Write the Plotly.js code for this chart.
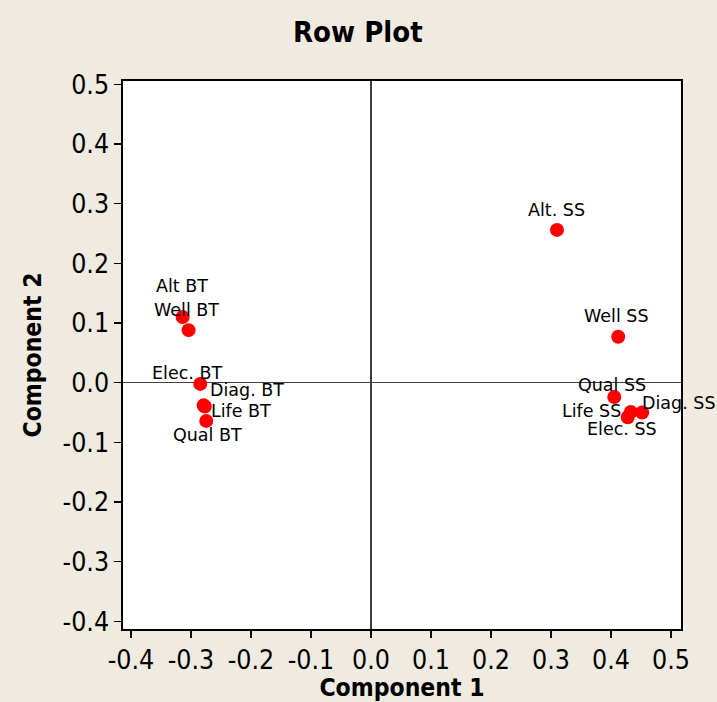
<!DOCTYPE html>
<html>
<head>
<meta charset="utf-8">
<script src="https://cdn.plot.ly/plotly-3.0.1.min.js"></script>
<style>
  html, body { margin: 0; padding: 0; background: #EFEBE1; }
  #chart { width: 717px; height: 702px; }
</style>
</head>
<body>
<div id="chart"></div>
<script>
// ---- data ----
const rowLabels = ["Alt BT", "Well BT", "Elec. BT", "Diag. BT", "Life BT", "Qual BT",
                   "Alt. SS", "Well SS", "Qual SS", "Diag. SS", "Life SS", "Elec. SS"];
const component1 = [-0.314, -0.304, -0.2845, -0.279, -0.277, -0.2745,
                     0.310, 0.412, 0.4055, 0.452, 0.433, 0.428];
const component2 = [0.110, 0.088, -0.002, -0.038, -0.040, -0.064,
                    0.256, 0.077, -0.024, -0.050, -0.049, -0.058];
const tickValues = [-0.4, -0.3, -0.2, -0.1, 0.0, 0.1, 0.2, 0.3, 0.4, 0.5];
const tickLabels = ["-0.4", "-0.3", "-0.2", "-0.1", "0.0", "0.1", "0.2", "0.3", "0.4", "0.5"];

// ---- label placement (pixel offsets, right / up) ----
const labelShift = [
  [-1, 31], [-2, 20], [-13, 11], [43, 15], [36, -4], [1, -14],
  [0, 20], [-2, 21], [-2, 12], [37, 10], [-39, 1], [-6, -12]
];

const condensed = "DejaVu Sans Condensed, DejaVu Sans, sans-serif";
const regular = "DejaVu Sans, sans-serif";

const trace = {
  type: "scatter",
  mode: "markers",
  x: component1,
  y: component2,
  text: rowLabels,
  hoverinfo: "text",
  marker: { color: "#FF0000", size: 14, line: { width: 0 } },
  showlegend: false
};

const annotations = rowLabels.map((t, i) => ({
  x: component1[i], y: component2[i], xref: "x", yref: "y",
  text: t, showarrow: false,
  xanchor: "center", yanchor: "middle",
  xshift: labelShift[i][0], yshift: labelShift[i][1],
  font: { family: regular, size: 17.5, color: "#000000" }
}));

const axisCommon = {
  tickmode: "array",
  tickvals: tickValues,
  ticktext: tickLabels,
  ticks: "outside",
  ticklen: 7,
  tickwidth: 1.3,
  tickcolor: "#000000",
  showgrid: false,
  showline: true,
  mirror: true,
  linecolor: "#000000",
  linewidth: 1.6,
  zeroline: true,
  zerolinecolor: "#404040",
  zerolinewidth: 1.5,
  tickfont: { family: condensed, size: 26.5, color: "#000000" },
  automargin: false,
  fixedrange: true
};

const layout = {
  width: 717,
  height: 702,
  paper_bgcolor: "#EFEBE1",
  plot_bgcolor: "#FFFFFF",
  margin: { l: 123, r: 36, t: 81, b: 73 },
  title: {
    text: "<b>Row Plot</b>",
    font: { family: condensed, size: 29, color: "#000000" },
    xref: "container", yref: "container",
    x: 0.499, y: 0.955, xanchor: "center", yanchor: "middle"
  },
  xaxis: Object.assign({}, axisCommon, {
    range: [-0.4133, 0.5167],
    title: { text: "<b>Component 1</b>", font: { family: condensed, size: 24.5, color: "#000000" }, standoff: 8 }
  }),
  yaxis: Object.assign({}, axisCommon, {
    range: [-0.4127, 0.5055],
    title: { text: "<b>Component 2</b>", font: { family: condensed, size: 24.5, color: "#000000" }, standoff: 14 }
  }),
  annotations: annotations
};

Plotly.newPlot("chart", [trace], layout, { displayModeBar: false, staticPlot: true });
</script>
</body>
</html>
